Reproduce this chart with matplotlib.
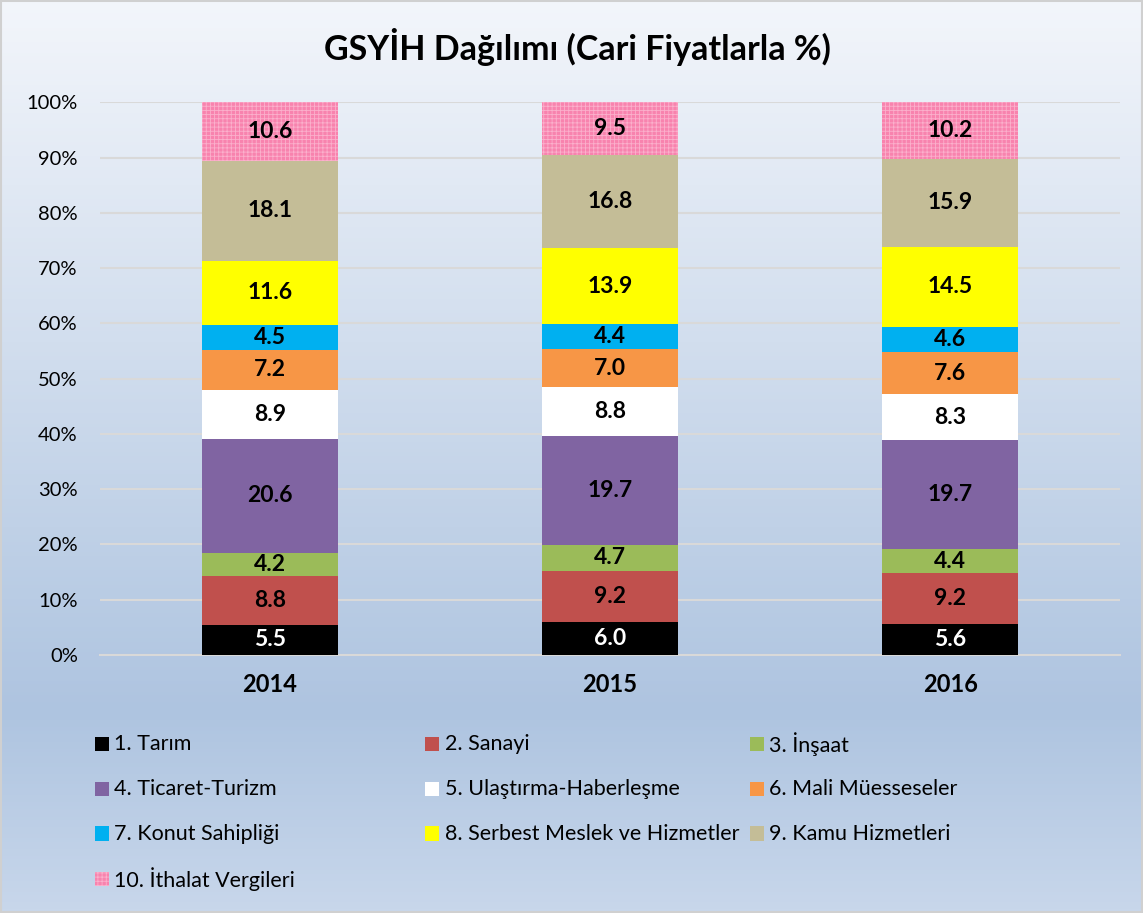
import numpy as np
import matplotlib.pyplot as plt
from matplotlib.colors import LinearSegmentedColormap
from matplotlib.patches import Rectangle

plt.rcParams['font.family'] = ['Lato', 'DejaVu Sans']
plt.rcParams['hatch.linewidth'] = 0.6

# Veriler
yillar = ['2014', '2015', '2016']
sektorler = ['1. Tarım', '2. Sanayi', '3. İnşaat', '4. Ticaret-Turizm',
             '5. Ulaştırma-Haberleşme', '6. Mali Müesseseler', '7. Konut Sahipliği',
             '8. Serbest Meslek ve Hizmetler', '9. Kamu Hizmetleri', '10. İthalat Vergileri']
tarim = [5.5, 6.0, 5.6]
sanayi = [8.8, 9.2, 9.2]
insaat = [4.2, 4.7, 4.4]
ticaret = [20.6, 19.7, 19.7]
ulastirma = [8.9, 8.8, 8.3]
mali = [7.2, 7.0, 7.6]
konut = [4.5, 4.4, 4.6]
serbest = [11.6, 13.9, 14.5]
kamu = [18.1, 16.8, 15.9]
ithalat = [10.6, 9.5, 10.2]

seriler = [tarim, sanayi, insaat, ticaret, ulastirma, mali, konut, serbest, kamu, ithalat]
renkler = ['#000000', '#c0504d', '#9bbb59', '#8064a2', '#ffffff',
           '#f79646', '#00b0f0', '#ffff00', '#c4bd97', '#f883ae']

fig = plt.figure(figsize=(11.43, 9.13), dpi=100)

# arka plan degrade
bg = fig.add_axes([0, 0, 1, 1], zorder=-10)
cmap = LinearSegmentedColormap.from_list('bg', [(0, '#f3f6fb'), (0.78, '#aec4e0'), (1.0, '#c8d7eb')])
bg.imshow(np.linspace(0, 1, 256).reshape(-1, 1), aspect='auto', cmap=cmap, extent=[0, 1, 0, 1])
bg.add_patch(Rectangle((0.001, 0.001), 0.998, 0.998, fill=False, edgecolor='#d0d0d0', linewidth=1.5))
bg.set_xlim(0, 1)
bg.set_ylim(0, 1)
bg.axis('off')

ax = fig.add_axes([0.0875, 0.2826, 0.8925, 0.6054])
ax.patch.set_alpha(0)

x = np.arange(len(yillar))
toplam = np.sum(seriler, axis=0)
alt = np.zeros(len(yillar))
for i, (s, c) in enumerate(zip(seriler, renkler)):
    pay = np.array(s) / toplam * 100
    if i == 9:
        ax.bar(x, pay, 0.4, bottom=alt, color=c, edgecolor='#fbb0cc', linewidth=0, hatch='++++', zorder=3)
    else:
        ax.bar(x, pay, 0.4, bottom=alt, color=c, linewidth=0, zorder=3)
    for xi, b, p, v in zip(x, alt, pay, s):
        ax.text(xi, b + p / 2, f'{v:.1f}', ha='center', va='center', fontsize=16.5, fontweight='bold',
                color='white' if i == 0 else 'black', zorder=4)
    alt += pay

ax.set_xlim(-0.5, 2.5)
ax.set_ylim(0, 100)
ax.set_yticks(np.arange(0, 101, 10))
ax.set_yticklabels([f'{t}%' for t in range(0, 101, 10)], fontsize=14.5)
ax.set_xticks(x)
ax.set_xticklabels(yillar, fontsize=17, fontweight='bold')
ax.yaxis.grid(True, color='#d9d9d9', linewidth=1.5, zorder=0)
ax.tick_params(axis='both', length=0)
ax.tick_params(axis='y', pad=16)
ax.tick_params(axis='x', pad=13)
for sp in ['top', 'right', 'left']:
    ax.spines[sp].set_visible(False)
ax.spines['bottom'].set_color('#d9d9d9')
ax.spines['bottom'].set_linewidth(1.5)

fig.text(0.505, 0.948, 'GSYİH Dağılımı (Cari Fiyatlarla %)', ha='center', va='center',
         fontsize=24.5, fontweight='bold')

# lejant
sutun_x = [0.083, 0.372, 0.656]
satir_y = [0.185, 0.136, 0.087, 0.037]
for i, (ad, c) in enumerate(zip(sektorler, renkler)):
    sx = sutun_x[i % 3]
    sy = satir_y[i // 3]
    kw = dict(facecolor=c, linewidth=0)
    if i == 9:
        kw.update(edgecolor='#fbb0cc', hatch='++++')
    fig.add_artist(Rectangle((sx, sy - 0.0078), 0.0125, 0.0156, transform=fig.transFigure, **kw))
    fig.text(sx + 0.017, sy, ad, ha='left', va='center', fontsize=15.5)

fig.savefig('out.png', dpi=100)
